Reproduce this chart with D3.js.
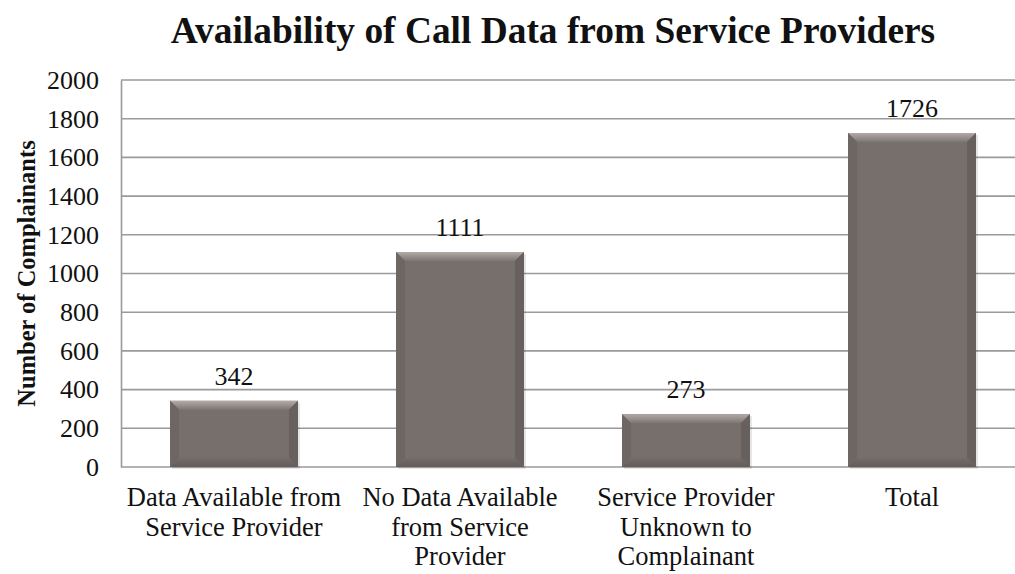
<!DOCTYPE html>
<html>
<head>
<meta charset="utf-8">
<script src="https://cdn.jsdelivr.net/npm/d3@7"></script>
<style>
  html, body { margin: 0; padding: 0; background: #fff; }
  svg { display: block; }
  svg text { font-family: "Liberation Serif", "DejaVu Serif", serif; fill: #111; }
</style>
</head>
<body>
<svg id="chart" width="1015" height="574"></svg>
<script>
// Complainant counts by call-data availability
const categories = [
  ["Data Available from", "Service Provider"],
  ["No Data Available", "from Service", "Provider"],
  ["Service Provider", "Unknown to", "Complainant"],
  ["Total"]
];
const values = [342, 1111, 273, 1726];
const yTicks = [0, 200, 400, 600, 800, 1000, 1200, 1400, 1600, 1800, 2000];

const serif = "'Liberation Serif', 'DejaVu Serif', serif";
const svg = d3.select("#chart");
const margin = { left: 121, top: 80, bottom: 467 };
const plotRight = 1025;

const x = d3.scaleBand()
  .domain(d3.range(values.length))
  .range([margin.left, plotRight])
  .paddingInner(0.434)
  .paddingOuter(0.217);

const y = d3.scaleLinear().domain([0, 2000]).range([margin.bottom, margin.top]);

// Gradients for the bevel faces
const defs = svg.append("defs");
const topGrad = defs.append("linearGradient")
  .attr("id", "bevelTop").attr("x1", 0).attr("y1", 0).attr("x2", 0).attr("y2", 1);
topGrad.append("stop").attr("offset", 0).attr("stop-color", "#b3aba7");
topGrad.append("stop").attr("offset", 1).attr("stop-color", "#7d7571");
const botGrad = defs.append("linearGradient")
  .attr("id", "bevelBottom").attr("x1", 0).attr("y1", 0).attr("x2", 0).attr("y2", 1);
botGrad.append("stop").attr("offset", 0).attr("stop-color", "#746c68");
botGrad.append("stop").attr("offset", 1).attr("stop-color", "#625b58");

// Title
svg.append("text")
  .attr("x", 553).attr("y", 43)
  .attr("text-anchor", "middle")
  .attr("font-family", serif)
  .attr("font-size", 37.4).attr("font-weight", "bold")
  .text("Availability of Call Data from Service Providers");

// Horizontal gridlines
svg.append("g").selectAll("line")
  .data(yTicks)
  .join("line")
  .attr("x1", margin.left).attr("x2", plotRight)
  .attr("y1", d => y(d)).attr("y2", d => y(d))
  .attr("stroke", "#9a9a9a").attr("stroke-width", 1.6);

// Y axis
const yAxis = svg.append("g")
  .attr("transform", `translate(${margin.left},0)`)
  .call(d3.axisLeft(y).tickValues(yTicks).tickFormat(d3.format("d")).tickSize(0).tickPadding(22));
yAxis.select(".domain").attr("stroke", "#9a9a9a").attr("stroke-width", 1.6);
yAxis.attr("font-family", serif).attr("font-size", 26);
yAxis.selectAll("text")
  .attr("font-family", serif)
  .attr("font-size", 26).attr("fill", "#111");

// Y axis title
svg.append("text")
  .attr("transform", `translate(35,${(margin.top + margin.bottom) / 2}) rotate(-90)`)
  .attr("text-anchor", "middle")
  .attr("font-family", serif)
  .attr("font-size", 24.5).attr("font-weight", "bold")
  .text("Number of Complainants");

// Bars with bevelled edges
const bev = 9;
const barG = svg.append("g").selectAll("g")
  .data(values)
  .join("g");

barG.append("rect")
  .attr("x", (d, i) => x(i) + 2).attr("y", d => y(d) + 2)
  .attr("width", x.bandwidth()).attr("height", d => y(0) - y(d))
  .attr("fill", "#000").attr("opacity", 0.1);

barG.append("rect")
  .attr("x", (d, i) => x(i)).attr("y", d => y(d))
  .attr("width", x.bandwidth()).attr("height", d => y(0) - y(d))
  .attr("fill", "#776f6b");

// top bevel (light)
barG.append("polygon")
  .attr("points", (d, i) => {
    const x0 = x(i), x1 = x(i) + x.bandwidth(), y0 = y(d);
    return [[x0, y0], [x1, y0], [x1 - bev, y0 + bev], [x0 + bev, y0 + bev]].join(" ");
  })
  .attr("fill", "url(#bevelTop)");

// left bevel
barG.append("polygon")
  .attr("points", (d, i) => {
    const x0 = x(i), y0 = y(d), y1 = y(0);
    return [[x0, y0], [x0 + bev, y0 + bev], [x0 + bev, y1 - bev], [x0, y1]].join(" ");
  })
  .attr("fill", "#6e6663");

// right bevel
barG.append("polygon")
  .attr("points", (d, i) => {
    const x1 = x(i) + x.bandwidth(), y0 = y(d), y1 = y(0);
    return [[x1, y0], [x1 - bev, y0 + bev], [x1 - bev, y1 - bev], [x1, y1]].join(" ");
  })
  .attr("fill", "#67605d");

// bottom bevel (dark)
barG.append("polygon")
  .attr("points", (d, i) => {
    const x0 = x(i), x1 = x(i) + x.bandwidth(), y1 = y(0);
    return [[x0, y1], [x1, y1], [x1 - bev, y1 - bev], [x0 + bev, y1 - bev]].join(" ");
  })
  .attr("fill", "url(#bevelBottom)");

// Value labels
svg.append("g").selectAll("text")
  .data(values)
  .join("text")
  .attr("x", (d, i) => x(i) + x.bandwidth() / 2)
  .attr("y", d => y(d) - 16)
  .attr("text-anchor", "middle")
  .attr("font-family", serif)
  .attr("font-size", 26)
  .text(d => d);

// Category labels
const catG = svg.append("g").selectAll("text")
  .data(categories)
  .join("text")
  .attr("x", (d, i) => x(i) + x.bandwidth() / 2)
  .attr("y", 506)
  .attr("text-anchor", "middle")
  .attr("font-family", serif)
  .attr("font-size", 26.5);
catG.selectAll("tspan")
  .data((d, i) => d.map(t => ({ t, i })))
  .join("tspan")
  .attr("x", d => x(d.i) + x.bandwidth() / 2)
  .attr("dy", (d, j) => j === 0 ? 0 : 29.5)
  .text(d => d.t);
</script>
</body>
</html>
